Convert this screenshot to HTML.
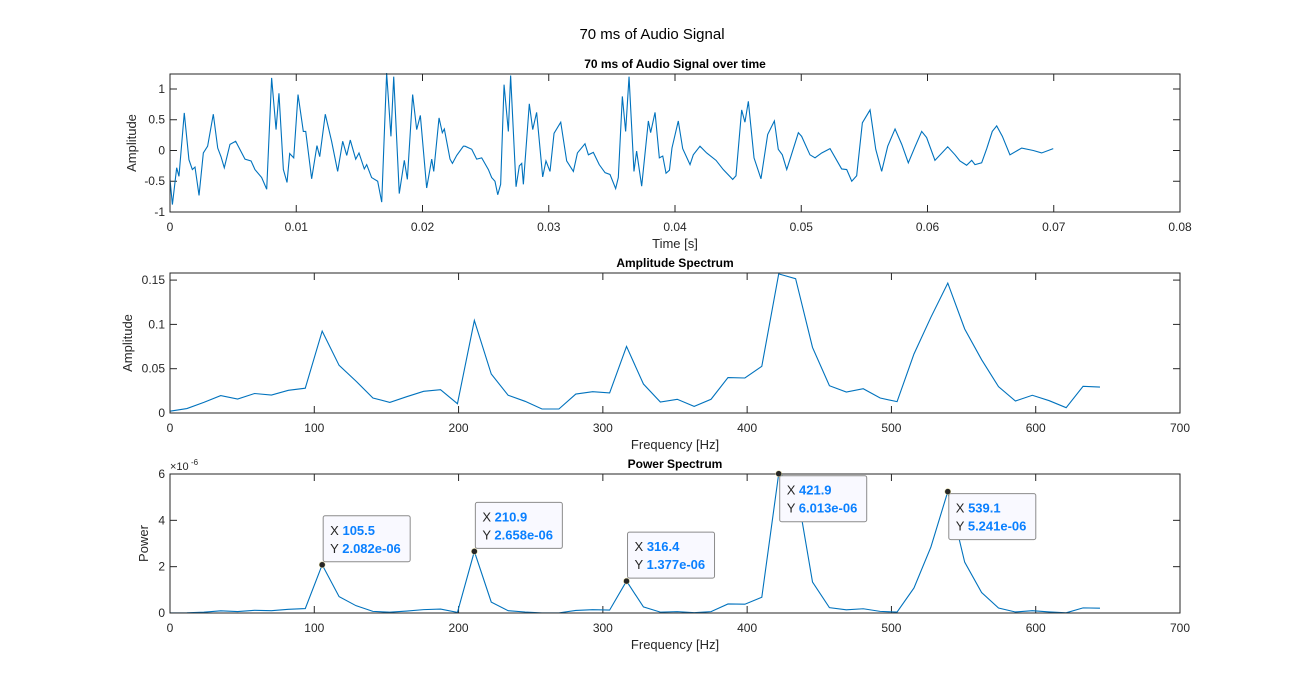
<!DOCTYPE html>
<html><head><meta charset="utf-8"><style>
body{margin:0;background:#fff;}
svg{display:block;font-family:"Liberation Sans",sans-serif;}
</style></head><body>
<svg id="fig" width="1304" height="691" xmlns="http://www.w3.org/2000/svg">
<rect width="1304" height="691" fill="#fff"/>
<text x="652" y="39" text-anchor="middle" font-size="15" fill="#000">70 ms of Audio Signal</text>
</svg>
<script>
// ---- data: audio signal ----
const sigTimeMs=[0,0.19,0.53,0.71,1.13,1.5,1.77,1.98,2.3,2.64,2.98,3.43,3.78,4.04,4.3,4.75,5.2,5.94,6.42,6.73,7.26,7.66,8.05,8.4,8.63,8.98,9.27,9.48,9.8,10.14,10.56,10.75,11.22,11.64,11.86,12.3,12.8,13.28,13.68,14.0,14.28,14.71,14.97,15.39,15.58,15.97,16.45,16.77,17.16,17.5,17.72,18.16,18.56,18.8,19.22,19.54,19.83,20.33,20.73,20.89,21.31,21.57,21.73,22.18,22.37,22.71,23.24,23.37,23.9,24.29,24.69,25.22,25.48,25.74,25.96,26.19,26.46,26.8,26.98,27.41,27.67,27.86,27.99,28.46,28.73,29.04,29.52,29.78,30.1,30.42,30.95,31.42,31.95,32.27,32.87,33.14,33.53,34.0,34.46,34.85,35.3,35.51,35.83,36.09,36.36,36.75,36.96,37.36,37.89,38.07,38.42,38.76,39.03,39.29,39.56,39.76,40.26,40.61,41.19,41.45,41.98,42.51,43.25,43.82,44.57,44.83,45.28,45.54,45.81,46.26,46.81,47.34,47.87,48.18,48.5,48.85,49.19,49.77,50.03,50.69,51.09,51.62,52.28,53.2,53.6,54.0,54.39,54.84,55.45,55.9,56.37,56.85,57.43,57.96,58.48,59.01,59.54,59.93,60.59,61.6,62.18,62.57,63.1,63.5,63.76,64.29,64.69,65.13,65.48,65.93,66.53,67.46,68.38,69.04,69.96];
const sigAmp=[-0.47,-0.88,-0.28,-0.42,0.61,-0.15,-0.31,-0.27,-0.73,-0.04,0.07,0.59,0.04,-0.1,-0.28,0.1,0.15,-0.14,-0.17,-0.31,-0.44,-0.63,1.18,0.34,0.93,-0.31,-0.52,-0.05,-0.12,0.91,0.31,0.31,-0.46,0.08,-0.1,0.59,0.15,-0.34,0.15,-0.08,0.17,-0.14,-0.04,-0.3,-0.23,-0.44,-0.5,-0.84,1.26,0.23,1.2,-0.7,-0.16,-0.47,0.91,0.34,0.57,-0.61,-0.14,-0.34,0.53,0.29,0.35,-0.14,-0.21,-0.08,0.07,0.07,0.02,-0.14,-0.12,-0.31,-0.44,-0.5,-0.72,-0.55,1.07,0.31,1.22,-0.59,-0.25,-0.21,-0.55,0.76,0.34,0.62,-0.43,-0.17,-0.34,0.28,0.46,-0.17,-0.34,-0.04,0.11,-0.07,-0.03,-0.23,-0.36,-0.39,-0.62,-0.44,0.88,0.31,1.2,-0.34,-0.01,-0.58,0.48,0.29,0.62,-0.12,-0.09,-0.37,-0.32,0.04,0.48,0.03,-0.23,-0.07,0.07,-0.04,-0.16,-0.31,-0.47,-0.41,0.66,0.46,0.8,-0.12,-0.46,0.26,0.48,0.02,-0.07,-0.31,-0.09,0.29,0.23,-0.07,-0.12,-0.04,0.03,-0.3,-0.31,-0.5,-0.41,0.45,0.66,0.02,-0.34,0.07,0.35,0.1,-0.2,0.06,0.31,0.21,-0.16,0.06,-0.07,-0.17,-0.24,-0.16,-0.23,-0.2,0.03,0.31,0.4,0.23,-0.07,0.04,0.0,-0.04,0.03];
// ---- data: spectra (bin spacing 11.72 Hz) ----
const binHz=11.71875;
const ampSpec=[0.002,0.005,0.012,0.0196,0.0158,0.022,0.0203,0.0256,0.028,0.0924,0.0538,0.036,0.0169,0.012,0.0184,0.0245,0.0263,0.0105,0.1044,0.044,0.020,0.0132,0.0045,0.0045,0.0214,0.024,0.0226,0.0751,0.0327,0.0124,0.0155,0.0075,0.0155,0.040,0.0395,0.0527,0.157,0.1516,0.074,0.0308,0.0237,0.0274,0.0169,0.0128,0.0666,0.108,0.1466,0.0948,0.0602,0.0297,0.0135,0.020,0.0139,0.006,0.0301,0.0293];
const powSpecE6=[0.001,0.006,0.035,0.094,0.061,0.118,0.10,0.16,0.19,2.082,0.706,0.316,0.07,0.035,0.083,0.146,0.169,0.027,2.658,0.472,0.098,0.043,0.005,0.005,0.112,0.141,0.125,1.377,0.261,0.038,0.059,0.014,0.059,0.39,0.38,0.678,6.013,5.61,1.336,0.231,0.137,0.183,0.07,0.04,1.082,2.846,5.241,2.193,0.884,0.215,0.044,0.098,0.047,0.009,0.221,0.209];
const tipBins=[9,18,27,36,46];
const tipX=["105.5","210.9","316.4","421.9","539.1"];
const tipY=["2.082e-06","2.658e-06","1.377e-06","6.013e-06","5.241e-06"];
const tipBelow=[false,false,false,true,true];
const topXTicks=["0","0.01","0.02","0.03","0.04","0.05","0.06","0.07","0.08"];
const topYTicks=["-1","-0.5","0","0.5","1"];
const freqTicks=["0","100","200","300","400","500","600","700"];
const ampYTicks=["0","0.05","0.1","0.15"];
const powYTicks=["0","2","4","6"];

const NS="http://www.w3.org/2000/svg";
const svg=document.getElementById('fig');
function mk(tag,attrs,parent){const e=document.createElementNS(NS,tag);for(const k in attrs)e.setAttribute(k,attrs[k]);(parent||svg).appendChild(e);return e;}
const L=170,R=1180;
function axes(cfg){
  const g=mk('g',{});
  
  
  const sx=v=>L+(v-cfg.x0)/(cfg.x1-cfg.x0)*(R-L);
  const sy=v=>cfg.b-(v-cfg.y0)/(cfg.y1-cfg.y0)*(cfg.b-cfg.t);
  mk('rect',{x:L,y:cfg.t,width:R-L,height:cfg.b-cfg.t,fill:'#fff',stroke:'none'},g);
  cfg.xt.forEach(s=>{const v=parseFloat(s),x=sx(v);
    mk('line',{x1:x,x2:x,y1:cfg.b,y2:cfg.b-7,stroke:'#262626'},g);
    mk('line',{x1:x,x2:x,y1:cfg.t,y2:cfg.t+7,stroke:'#262626'},g);
    const t=mk('text',{x:x,y:cfg.b+19,'text-anchor':'middle','font-size':12,fill:'#262626'},g);t.textContent=s;
    
    });
  cfg.yt.forEach(s=>{const v=parseFloat(s),y=sy(v);
    mk('line',{x1:L,x2:L+7,y1:y,y2:y,stroke:'#262626'},g);
    mk('line',{x1:R,x2:R-7,y1:y,y2:y,stroke:'#262626'},g);
    const t=mk('text',{x:L-5,y:y+4,'text-anchor':'end','font-size':12,fill:'#262626'},g);t.textContent=s;
    
    });
  const d=cfg.xs.map((x,i)=>(i?'L':'M')+sx(x).toFixed(2)+','+sy(cfg.ys[i]).toFixed(2)).join('');
  const p=mk('path',{d:d,fill:'none',stroke:'#0072bd','stroke-width':1.1},g);
  
  
  mk('rect',{x:L,y:cfg.t,width:R-L,height:cfg.b-cfg.t,fill:'none',stroke:'#262626','stroke-width':1},g);
  const tt=mk('text',{x:(L+R)/2,y:cfg.t-6,'text-anchor':'middle','font-size':12,'font-weight':'bold',fill:'#000'},g);tt.textContent=cfg.title;
  
  
  const xl=mk('text',{x:(L+R)/2,y:cfg.b+36,'text-anchor':'middle','font-size':13,fill:'#262626'},g);xl.textContent=cfg.xl;
  
  
  const yc=(cfg.t+cfg.b)/2;
  const yl=mk('text',{x:cfg.ylx,y:yc,'text-anchor':'middle','font-size':13,fill:'#262626',transform:`rotate(-90 ${cfg.ylx} ${yc})`},g);yl.textContent=cfg.yl;
  
  
  return {sx,sy,g};
}
axes({name:'signal-axes',t:74,b:212,x0:0,x1:0.08,y0:-1,y1:1.2439,xt:topXTicks,yt:topYTicks,
  xs:sigTimeMs.map(v=>v/1000),ys:sigAmp,title:'70 ms of Audio Signal over time',xl:'Time [s]',yl:'Amplitude',ylx:136});
const bins=ampSpec.map((_,i)=>i*binHz);
axes({name:'amplitude-axes',t:273,b:413,x0:0,x1:700,y0:0,y1:0.158,xt:freqTicks,yt:ampYTicks,
  xs:bins,ys:ampSpec,title:'Amplitude Spectrum',xl:'Frequency [Hz]',yl:'Amplitude',ylx:132});
const P=axes({name:'power-axes',t:474,b:613,x0:0,x1:700,y0:0,y1:6,xt:freqTicks,yt:powYTicks,
  xs:bins,ys:powSpecE6,title:'Power Spectrum',xl:'Frequency [Hz]',yl:'Power',ylx:148});
const ex=mk('text',{x:170,y:470,'font-size':11,fill:'#262626'});ex.textContent='×10';


const ee=mk('text',{x:191,y:465,'font-size':8,fill:'#262626'});ee.textContent='-6';
tipBins.forEach((b,i)=>{
  const x=P.sx(b*binHz),y=P.sy(powSpecE6[b]);
  const g=mk('g',{});
  
  
  const by=tipBelow[i]?y+2:y-49;
  mk('rect',{x:x+1,y:by,width:87,height:46,rx:2,fill:'#f9f9ff',stroke:'#8c8c8c'},g);
  mk('circle',{cx:x,cy:y,r:3,fill:'#262626',stroke:'#e8e0a0','stroke-width':0.5},g);
  const t1=mk('text',{x:x+8,y:by+19,'font-size':13,fill:'#262626'},g);
  t1.innerHTML='X <tspan fill="#0a80ff" font-weight="bold">'+tipX[i]+'</tspan>';
  const t2=mk('text',{x:x+8,y:by+37,'font-size':13,fill:'#262626'},g);
  t2.innerHTML='Y <tspan fill="#0a80ff" font-weight="bold">'+tipY[i]+'</tspan>';
});
</script>
</body></html>
